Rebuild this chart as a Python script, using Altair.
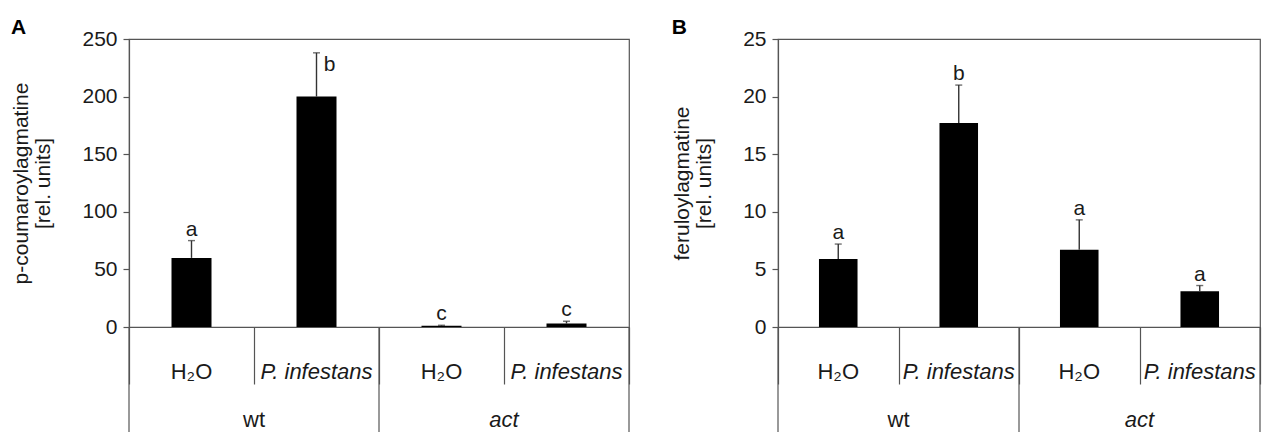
import altair as alt
import pandas as pd

# ---- data ----
genotypes = ["wt", "wt", "act", "act"]
treatments = ["H₂O", "P. infestans", "H₂O", "P. infestans"]

coum_mean = [60, 200, 1, 3]
coum_err = [15, 38, 0.5, 2]
coum_letters = ["a", "b", "c", "c"]

fer_mean = [5.9, 17.7, 6.7, 3.1]
fer_err = [1.3, 3.3, 2.6, 0.5]
fer_letters = ["a", "b", "a", "a"]

conds = [f"{g}|{t}" for g, t in zip(genotypes, treatments)]

FONT = "Liberation Sans"
LINE = "#555555"
TXT = "#1a1a1a"
H = 288


def panel(mean, err, letters, ymax, ystep, ytitle, tag, width, beside="none"):
    df = pd.DataFrame({"cond": conds, "grp": genotypes, "treat": treatments,
                       "mean": mean, "err": err, "letter": letters})
    df["hi"] = df["mean"] + df["err"]
    df["first"] = [i == 0 or genotypes[i] != genotypes[i - 1] for i in range(len(conds))]
    df["last"] = [i == len(conds) - 1 for i in range(len(conds))]

    sub_axis = alt.Axis(
        title=None, orient="bottom", domain=True, domainColor=LINE, domainWidth=1.2,
        tickBand="extent", tickSize=57, tickColor=LINE, tickWidth=1.2,
        labels=False,
    )
    sc = alt.Scale(paddingInner=0, paddingOuter=0)
    x = alt.X("cond:N", sort=conds, axis=sub_axis, scale=sc)
    yaxis = alt.Axis(values=list(range(0, ymax + 1, ystep)), title=ytitle,
                     grid=False, tickSize=6, tickColor=LINE, tickWidth=1.2,
                     domainColor=LINE, domainWidth=1.2,
                     labelFontSize=21, labelColor=TXT, labelPadding=6,
                     titleFontSize=21, titleFontWeight="normal", titleColor=TXT,
                     titlePadding=28, titleLineHeight=22)
    yscale = alt.Scale(domain=[0, ymax], nice=False)
    ym = alt.Y("mean:Q", scale=yscale, axis=yaxis)
    yh = alt.Y("hi:Q", scale=yscale, axis=yaxis)

    base = alt.Chart(df).encode(x=x)
    bars = base.mark_bar(width=alt.RelativeBandSize(0.32), color="#000000").encode(y=ym)
    errs = base.mark_rule(color="#333333", strokeWidth=1.4).encode(y=ym, y2="hi:Q")
    caps = base.mark_tick(color="#333333", size=7, thickness=1.4).encode(y=yh)
    normal = base.transform_filter(f"datum.cond != '{beside}'").mark_text(
        fontSize=21, color=TXT, baseline="alphabetic", dy=-5).encode(y=yh, text="letter:N")
    side = base.transform_filter(f"datum.cond == '{beside}'").mark_text(
        fontSize=21, color=TXT, baseline="middle", dx=13, dy=12).encode(y=yh, text="letter:N")

    # treatment labels under the axis (x from the band scale)
    tl_n = base.transform_filter("indexof(datum.treat, 'infestans') < 0").mark_text(
        fontSize=22, color=TXT, baseline="alphabetic").encode(
        y=alt.value(H + 52), text="treat:N")
    tl_i = base.transform_filter("indexof(datum.treat, 'infestans') >= 0").mark_text(
        fontSize=22, color=TXT, baseline="alphabetic", fontStyle="italic").encode(
        y=alt.value(H + 52), text="treat:N")

    # group dividers and labels below the axis
    xs = alt.X("cond:N", sort=conds, axis=sub_axis, scale=sc, bandPosition=0)
    xe = alt.X("cond:N", sort=conds, axis=sub_axis, scale=sc, bandPosition=1)
    firsts = base.transform_filter("datum.first")
    div = firsts.mark_rule(color=LINE, strokeWidth=1.2).encode(
        x=xs, y=alt.value(H), y2=alt.value(H + 112))
    end = base.transform_filter("datum.last").mark_rule(color=LINE, strokeWidth=1.2).encode(
        x=xe, y=alt.value(H), y2=alt.value(H + 112))
    glab_n = firsts.transform_filter("datum.grp == 'wt'").mark_text(
        fontSize=22, color=TXT, baseline="alphabetic").encode(
        x=xe, y=alt.value(H + 100), text="grp:N")
    glab_i = firsts.transform_filter("datum.grp != 'wt'").mark_text(
        fontSize=22, color=TXT, baseline="alphabetic", fontStyle="italic").encode(
        x=xe, y=alt.value(H + 100), text="grp:N")

    return alt.layer(bars, errs, caps, normal, side, tl_n, tl_i,
                     div, end, glab_n, glab_i).properties(
        width=width, height=H,
        title=alt.TitleParams(tag, anchor="start", frame="bounds", fontSize=21,
                              fontWeight="bold", color="#000000", offset=-10),
    )


pA = panel(coum_mean, coum_err, coum_letters, 250, 50,
           ["p-coumaroylagmatine", "[rel. units]"], "A", 500, beside="wt|P. infestans")
pB = panel(fer_mean, fer_err, fer_letters, 25, 5,
           ["feruloylagmatine", "[rel. units]"], "B", 482)

chart = alt.hconcat(pA, pB, spacing=40).configure(font=FONT).configure_view(
    stroke=LINE, strokeWidth=1.2).properties(
    padding={"left": 2, "top": 8, "right": 0, "bottom": 0})

chart.save("out.html", embed_options={"renderer": "svg", "actions": False})
